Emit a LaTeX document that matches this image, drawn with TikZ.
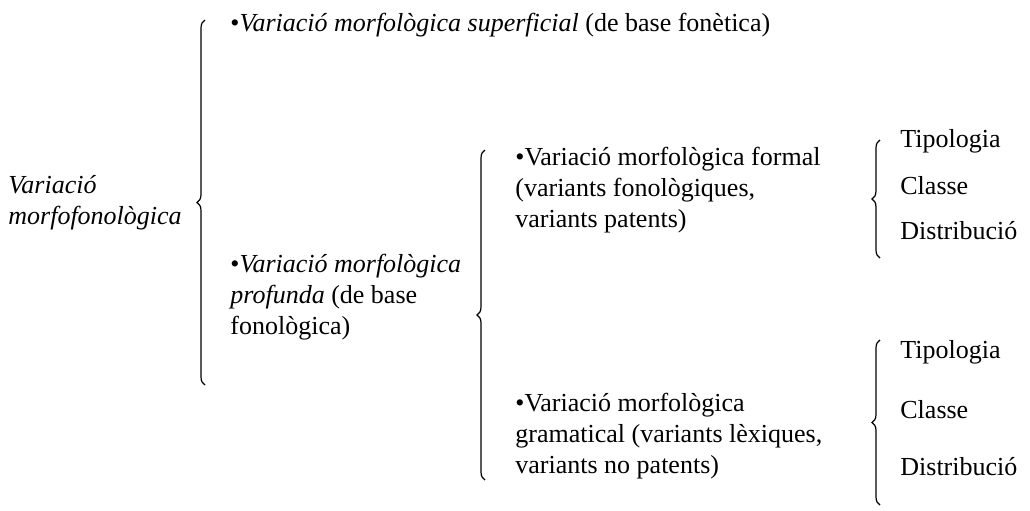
\documentclass[tikz,border=0pt]{standalone}
\usepackage{fontspec}
\setmainfont{Liberation Serif}
\usepackage{tikz}
\usetikzlibrary{decorations.pathreplacing}

\begin{document}
\begin{tikzpicture}[x=0.5pt,y=-0.5pt,
  txt/.style={anchor=west,align=left,inner sep=0pt,font=\fontsize{13}{15.5}\selectfont},
  brc/.style={decorate,decoration={brace,amplitude=4pt},line width=0.6pt}]
\useasboundingbox (0,0) rectangle (1030,510);

% left label and first level
\node[txt] (morf) at (8,203) {\textit{Variació}\\\textit{morfofonològica}};
\draw[brc] (205,385) -- (205,20);
\coordinate (b1) at (205,203);

\node[txt] (sup) at (230,25) {•\textit{Variació morfològica superficial} (de base fonètica)};
\node[txt] (prof) at (230,297) {•\textit{Variació morfològica}\\\textit{profunda} (de base\\fonològica)};

% second level
\draw[brc] (485,480) -- (485,150);
\node[txt] (form) at (515,190) {•Variació morfològica formal\\(variants fonològiques,\\variants patents)};
\node[txt] (gram) at (515,436) {•Variació morfològica\\gramatical (variants lèxiques,\\variants no patents)};

% third level
\draw[brc] (880,258) -- (880,140);
\node[txt] (tip1) at (900,141) {Tipologia};
\node[txt] (cla1) at (900,186) {Classe};
\node[txt] (dis1) at (900,231) {Distribució};

\draw[brc] (880,505) -- (880,340);
\node[txt] (tip2) at (900,352) {Tipologia};
\node[txt] (cla2) at (900,410) {Classe};
\node[txt] (dis2) at (900,467) {Distribució};
\end{tikzpicture}
\end{document}
